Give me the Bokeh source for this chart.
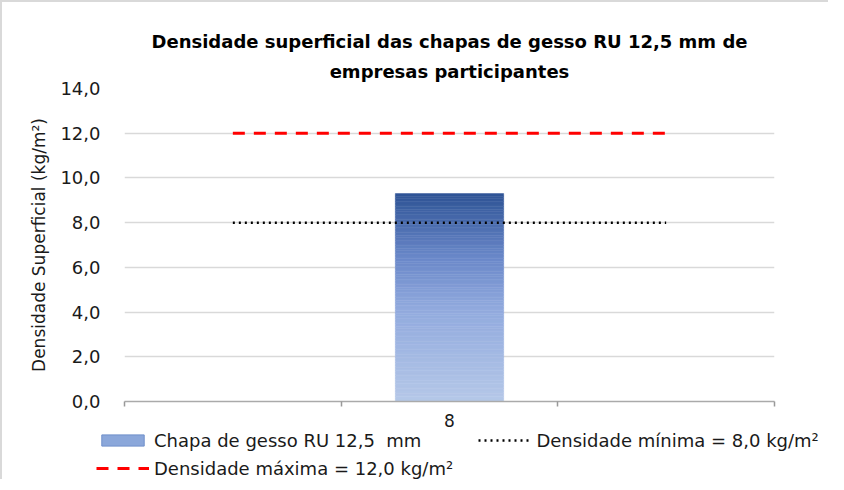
from bokeh.plotting import figure
from bokeh.layouts import column
from bokeh.models import (Range1d, FixedTicker, Legend, LegendItem, ColumnDataSource, Title)
from bokeh.embed import file_html
from bokeh.resources import INLINE

# ---- data ----
title_lines = ["Densidade superficial das chapas de gesso RU 12,5 mm de", "empresas participantes"]
categories = ["", "8", ""]
bar_values = [None, 9.3, None]
min_density = [8.0, 8.0, 8.0]
max_density = [12.0, 12.0, 12.0]
y_ticks = [0, 2, 4, 6, 8, 10, 12, 14]
y_tick_labels = ["0,0", "2,0", "4,0", "6,0", "8,0", "10,0", "12,0", "14,0"]
bar_label = "Chapa de gesso RU 12,5  mm"
min_label = "Densidade mínima = 8,0 kg/m²"
max_label = "Densidade máxima = 12,0 kg/m²"
y_title = "Densidade Superficial (kg/m²)"

FONT = "DejaVu Sans"
TXT = "#1a1a1a"
BAR_SWATCH = "#8ba7da"
xs = [i + 1 for i in range(len(categories))]

p = figure(width=828, height=429, output_backend="svg", toolbar_location=None,
           x_range=Range1d(0.5, len(categories) + 0.5), y_range=Range1d(0, 14),
           min_border_left=122, min_border_right=56, min_border_top=86, min_border_bottom=30)
p.styles = {"border-left": "2px solid #d9d9d9", "border-top": "2px solid #d9d9d9"}
p.outline_line_color = None
p.background_fill_color = "white"
p.border_fill_color = "white"

# title: two centred lines (p.title is the outer one)
p.title.text = title_lines[0]
p.title.align = "center"
p.title.text_font = FONT
p.title.text_font_size = "18px"
p.title.text_font_style = "bold"
p.title.text_color = "black"
p.title.standoff = 0
t2 = Title(text=title_lines[1], align="center", text_font=FONT, text_font_size="18px",
           text_font_style="bold", text_color="black", standoff=14)
p.add_layout(t2, "above")

# gradient bar: split bar into slices coloured top dark -> bottom light
stops = [(0.0, (47, 84, 150)), (0.3, (105, 135, 200)), (0.55, (145, 170, 222)), (1.0, (182, 200, 232))]
def grad(t):
    for (t0, c0), (t1_, c1) in zip(stops[:-1], stops[1:]):
        if t0 <= t <= t1_:
            f = (t - t0) / (t1_ - t0)
            return "#%02x%02x%02x" % tuple(int(round(a + (b - a) * f)) for a, b in zip(c0, c1))
    return "#%02x%02x%02x" % stops[-1][1]

N = 80
L, R, B, T, C = [], [], [], [], []
for x, v in zip(xs, bar_values):
    if v is None:
        continue
    for k in range(N):
        L.append(x - 0.25); R.append(x + 0.25)
        B.append(v * k / N); T.append(v * (k + 1) / N)
        C.append(grad(1 - (k + 0.5) / N))
src = ColumnDataSource(dict(left=L, right=R, bottom=B, top=T, color=C))
p.quad(left="left", right="right", bottom="bottom", top="top", source=src,
       fill_color="color", line_color="color", line_width=0.5)

p.line(xs, max_density, line_color="#ff0000", line_width=3, line_dash="12 9")
p.line(xs, min_density, line_color="black", line_width=2.5, line_dash="2 4")

# axes
p.yaxis.ticker = FixedTicker(ticks=y_ticks)
p.yaxis.major_label_overrides = {t: l for t, l in zip(y_ticks, y_tick_labels)}
p.yaxis.axis_line_color = None
p.yaxis.major_tick_line_color = None
p.yaxis.minor_tick_line_color = None
p.yaxis.major_label_text_font = FONT
p.yaxis.major_label_text_font_size = "18px"
p.yaxis.major_label_text_color = TXT
p.yaxis.major_label_standoff = 18
p.yaxis.axis_label = y_title
p.yaxis.axis_label_text_font = FONT
p.yaxis.axis_label_text_font_size = "17px"
p.yaxis.axis_label_text_font_style = "normal"
p.yaxis.axis_label_text_color = TXT
p.yaxis.axis_label_standoff = 8

p.xaxis.ticker = FixedTicker(ticks=xs, minor_ticks=[x - 0.5 for x in xs] + [xs[-1] + 0.5])
p.xaxis.major_label_overrides = {x: c for x, c in zip(xs, categories)}
p.xaxis.major_tick_line_color = None
p.xaxis.major_tick_out = 0
p.xaxis.major_tick_in = 0
p.xaxis.minor_tick_line_color = "#999999"
p.xaxis.minor_tick_line_width = 1.5
p.xaxis.minor_tick_in = 0
p.xaxis.minor_tick_out = 5
p.xaxis.axis_line_color = "#aaaaaa"
p.xaxis.axis_line_width = 1.5
p.xaxis.major_label_text_font = FONT
p.xaxis.major_label_text_font_size = "17px"
p.xaxis.major_label_text_color = TXT
p.xaxis.major_label_standoff = 7

p.xgrid.grid_line_color = None
p.ygrid.grid_line_color = "#d9d9d9"
p.ygrid.grid_line_width = 1.5

# ---- legend strip below the chart ----
lp = figure(width=828, height=50, output_backend="svg", toolbar_location=None,
            x_range=Range1d(0, 1), y_range=Range1d(0, 1), min_border=0,
            x_axis_location=None, y_axis_location=None)
lp.styles = {"border-left": "2px solid #d9d9d9"}
lp.grid.visible = False
lp.outline_line_color = None
lp.background_fill_color = "white"
lp.border_fill_color = "white"
# swatch renderers (kept outside the visible range of the strip)
r_bar = lp.quad(left=[5], right=[6], bottom=[5], top=[6], fill_color=BAR_SWATCH, line_color="#6f8fca")
r_min = lp.line(x=[5, 6], y=[5, 5], line_color="black", line_width=2.5, line_dash="2 4")
r_max = lp.line(x=[5, 6], y=[5, 5], line_color="#ff0000", line_width=3, line_dash="12 9")

try:
    p.frame_align = False
    lp.frame_align = False
except AttributeError:
    pass

def style_legend(lg, spacing):
    lg.label_text_font = FONT
    lg.label_text_font_size = "18px"
    lg.label_text_color = TXT
    lg.glyph_width = 53
    lg.glyph_height = 14
    lg.label_standoff = 5
    lg.spacing = spacing
    lg.padding = 0
    lg.margin = 0
    lg.border_line_color = None
    lg.background_fill_alpha = 0
    lg.label_height = 22

legend1 = Legend(items=[LegendItem(label=bar_label, renderers=[r_bar]),
                        LegendItem(label=min_label, renderers=[r_min])],
                 location=(94, 28), orientation="horizontal")
style_legend(legend1, 57)
legend2 = Legend(items=[LegendItem(label=max_label, renderers=[r_max])],
                 location=(94, 0), orientation="horizontal")
style_legend(legend2, 6)
lp.add_layout(legend1)
lp.add_layout(legend2)

layout = column(p, lp, spacing=0)
open("out.html", "w").write(file_html(layout, INLINE))
